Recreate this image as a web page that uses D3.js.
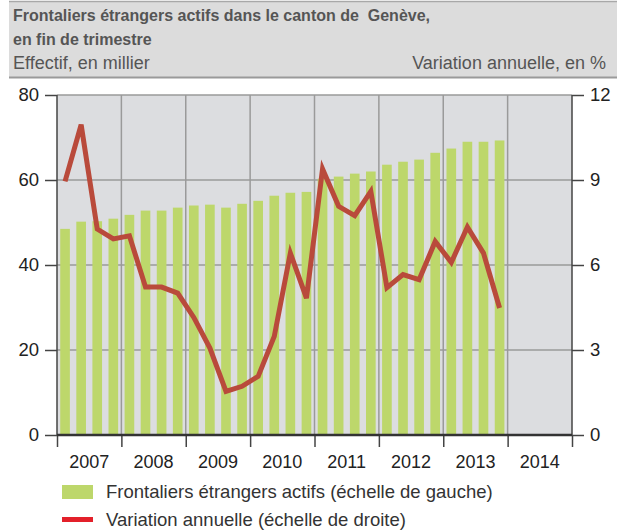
<!DOCTYPE html>
<html>
<head>
<meta charset="utf-8">
<script src="https://cdn.jsdelivr.net/npm/d3@7"></script>
<style>
  body { margin: 0; background: #fff; }
  svg text { font-family: "Liberation Sans", Arial, sans-serif; white-space: pre; }
</style>
</head>
<body>
<div id="chart"></div>
<script>
// quarters 2007Q1 .. 2013Q4
var years = [2007, 2008, 2009, 2010, 2011, 2012, 2013, 2014];
var frontaliers = [48.5, 50.2, 50.3, 50.9, 51.8, 52.8, 52.8, 53.5,
                   54.0, 54.2, 53.5, 54.4, 55.1, 56.3, 57.0, 57.2,
                   60.3, 60.8, 61.5, 62.0, 63.6, 64.3, 64.8, 66.4,
                   67.4, 69.0, 69.0, 69.3];
var variation = [8.95, 10.95, 7.27, 6.92, 7.03, 5.22, 5.22, 5.01,
                 4.15, 3.07, 1.54, 1.72, 2.07, 3.48, 6.42, 4.83,
                 9.39, 8.07, 7.74, 8.6, 5.2, 5.66, 5.48, 6.83,
                 6.09, 7.34, 6.42, 4.48];
var leftTicks = [0, 20, 40, 60, 80];
var rightTicks = [0, 3, 6, 9, 12];

var width = 617, height = 531;
var margin = {top: 95, bottom: 96, left: 57, right: 45};
var w = width - margin.left - margin.right;
var h = height - margin.top - margin.bottom;

var svg = d3.select("#chart").append("svg")
  .attr("width", width).attr("height", height);

// header band
svg.append("rect").attr("x", 9).attr("y", 1).attr("width", width - 9).attr("height", 76)
  .attr("fill", "#dcdcdc");
svg.append("line").attr("x1", 9).attr("x2", width).attr("y1", 1.5).attr("y2", 1.5)
  .attr("stroke", "#a8a8a8").attr("stroke-width", 1.5);
svg.append("line").attr("x1", 9).attr("x2", width).attr("y1", 77.5).attr("y2", 77.5)
  .attr("stroke", "#9a9a9a").attr("stroke-width", 2);

svg.append("text").attr("x", 13).attr("y", 21)
  .attr("font-size", "16px").attr("font-weight", "bold").attr("fill", "#555")
  .text("Frontaliers étrangers actifs dans le canton de  Genève,");
svg.append("text").attr("x", 13).attr("y", 45)
  .attr("font-size", "16px").attr("font-weight", "bold").attr("fill", "#555")
  .text("en fin de trimestre");
svg.append("text").attr("x", 13).attr("y", 69)
  .attr("font-size", "18px").attr("fill", "#555")
  .text("Effectif, en millier");
svg.append("text").attr("x", 606).attr("y", 69).attr("text-anchor", "end")
  .attr("font-size", "18px").attr("fill", "#555")
  .text("Variation annuelle, en %");

var g = svg.append("g").attr("transform", "translate(" + margin.left + "," + margin.top + ")");

/*Scales*/
var quarters = d3.range(years.length * 4);
var x = d3.scaleBand().domain(quarters).range([0, w]).paddingInner(0.4).paddingOuter(0.2);
var xYear = d3.scaleLinear().domain([years[0], years[years.length - 1] + 1]).range([0, w]);
var yLeft = d3.scaleLinear().domain([0, 80]).range([h, 0]);
var yRight = d3.scaleLinear().domain([0, 12]).range([h, 0]);

// plot background
g.append("rect").attr("width", w).attr("height", h).attr("fill", "#dcdde0");

// grid
g.selectAll(".hgrid").data(leftTicks.slice(1)).enter().append("line")
  .attr("x1", 0).attr("x2", w)
  .attr("y1", function(d){ return yLeft(d); }).attr("y2", function(d){ return yLeft(d); })
  .attr("stroke", "#9a9a9a").attr("stroke-width", 1.5);
g.selectAll(".vgrid").data(years.slice(1)).enter().append("line")
  .attr("x1", function(d){ return xYear(d); }).attr("x2", function(d){ return xYear(d); })
  .attr("y1", 0).attr("y2", h)
  .attr("stroke", "#9a9a9a").attr("stroke-width", 1.5);

// bars
g.selectAll(".bar").data(frontaliers).enter().append("rect")
  .attr("x", function(d, i){ return x(i); })
  .attr("width", x.bandwidth())
  .attr("y", function(d){ return yLeft(d); })
  .attr("height", function(d){ return h - yLeft(d); })
  .attr("fill", "#bdd76b");

// line
var line = d3.line()
  .x(function(d, i){ return x(i) + x.bandwidth() / 2; })
  .y(function(d){ return yRight(d); });
g.append("path").datum(variation)
  .attr("d", line)
  .attr("fill", "none")
  .attr("stroke", "#b94a3b")
  .attr("stroke-width", 5)
  .attr("stroke-linejoin", "miter");

// axes
var yAxisL = d3.axisLeft(yLeft).tickValues(leftTicks).tickSize(12).tickPadding(6);
var yAxisR = d3.axisRight(yRight).tickValues(rightTicks).tickSize(12).tickPadding(6);
var xAxis = d3.axisBottom(xYear).tickValues(d3.range(years[0], years[years.length - 1] + 2))
  .tickSize(12).tickFormat("");

function styleAxis(sel) {
  sel.select(".domain").remove();
  sel.selectAll("line").attr("stroke", "#444").attr("stroke-width", 1.5);
  sel.selectAll("text").attr("font-size", "18.5px").attr("fill", "#222");
}

g.append("g").call(yAxisL).call(styleAxis);
g.append("g").attr("transform", "translate(" + w + ",0)").call(yAxisR).call(styleAxis);
g.append("g").attr("transform", "translate(0," + h + ")").call(xAxis).call(styleAxis);

g.append("line").attr("x1", 0).attr("x2", 0).attr("y1", 0).attr("y2", h)
  .attr("stroke", "#444").attr("stroke-width", 1.5);
g.append("line").attr("x1", w).attr("x2", w).attr("y1", 0).attr("y2", h)
  .attr("stroke", "#444").attr("stroke-width", 1.5);
g.append("line").attr("x1", 0).attr("x2", w).attr("y1", h).attr("y2", h)
  .attr("stroke", "#333").attr("stroke-width", 2.5);

// year labels
g.selectAll(".ylab").data(years).enter().append("text")
  .attr("x", function(d){ return (xYear(d) + xYear(d + 1)) / 2; })
  .attr("y", h + 33)
  .attr("text-anchor", "middle")
  .attr("font-size", "18px").attr("fill", "#222")
  .text(function(d){ return d; });

// legend
svg.append("rect").attr("x", 62).attr("y", 485).attr("width", 31).attr("height", 14)
  .attr("fill", "#bdd76b");
svg.append("text").attr("x", 106).attr("y", 498)
  .attr("font-size", "18.5px").attr("fill", "#333")
  .text("Frontaliers étrangers actifs (échelle de gauche)");
svg.append("line").attr("x1", 62).attr("x2", 93).attr("y1", 519.5).attr("y2", 519.5)
  .attr("stroke", "#e3202a").attr("stroke-width", 5);
svg.append("text").attr("x", 106).attr("y", 526)
  .attr("font-size", "18.5px").attr("fill", "#333")
  .text("Variation annuelle (échelle de droite)");
</script>
</body>
</html>
